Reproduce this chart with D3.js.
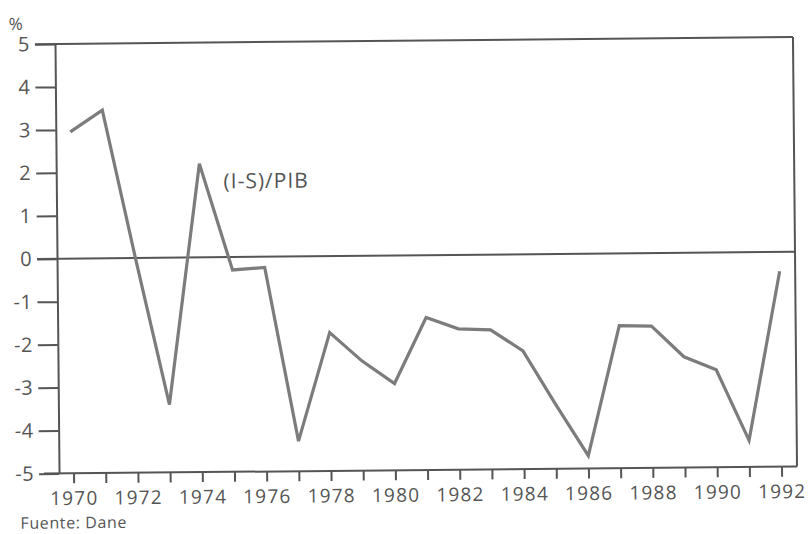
<!DOCTYPE html>
<html>
<head>
<meta charset="utf-8">
<script src="https://cdn.jsdelivr.net/npm/d3@7"></script>
<style>
  html, body { margin: 0; padding: 0; background: #fff; }
  svg { display: block; }
  text { font-family: "Open Sans", "DejaVu Sans", sans-serif; fill: #555; }
</style>
</head>
<body>
<svg id="chart" width="808" height="534"></svg>
<script>
// ---- data ----
const years = [1970,1971,1972,1973,1974,1975,1976,1977,1978,1979,1980,1981,
               1982,1983,1984,1985,1986,1987,1988,1989,1990,1991,1992];
const ratio = [2.95,3.45,-0.05,-3.42,2.18,-0.3,-0.25,-4.3,-1.78,-2.45,-2.98,-1.45,
               -1.72,-1.75,-2.25,-3.5,-4.7,-1.68,-1.7,-2.42,-2.73,-4.38,-0.45];
const yTicks = [5,4,3,2,1,0,-1,-2,-3,-4,-5];
const xLabelYears = [1970,1972,1974,1976,1978,1980,1982,1984,1986,1988,1990,1992];
const seriesLabel = "(I-S)/PIB";
const unitLabel = "%";
const sourceLabel = "Fuente: Dane";

// ---- layout ----
const svg = d3.select("#chart");
const plotLeft = 57, plotRight = 795, plotTop = 40.5, plotBottom = 470;
const axisColor = "#555", lineColor = "#7c7c7c";

// slight scan rotation
const g = svg.append("g").attr("transform", "rotate(-0.54, 426, 255)");

const x = d3.scaleLinear().domain([1970, 1992]).range([71.5, 779.5]);
const y = d3.scaleLinear().domain([-5, 5]).range([plotBottom, plotTop]);

// y axis
const yAxis = g.append("g")
  .attr("transform", `translate(${plotLeft},0)`)
  .call(d3.axisLeft(y).tickValues(yTicks).tickSize(20).tickSizeOuter(0).tickPadding(5)
        .tickFormat(d3.format("d")));
yAxis.select(".domain").attr("stroke", axisColor).attr("stroke-width", 2);
yAxis.selectAll(".tick line").attr("stroke", axisColor).attr("stroke-width", 2);
yAxis.selectAll(".tick text").attr("font-size", 20).style("font-family", "Open Sans").attr("fill", "#555")
  .attr("letter-spacing", 0.5)
  .text(d => d < 0 ? "-" + Math.abs(d) : d);

// x axis
const xAxis = g.append("g")
  .attr("transform", `translate(0,${plotBottom})`)
  .call(d3.axisBottom(x).tickValues(years).tickSize(10).tickSizeOuter(0).tickPadding(8)
        .tickFormat(d => xLabelYears.includes(d) ? String(d) : ""));
xAxis.select(".domain").remove();
xAxis.selectAll(".tick line").attr("stroke", axisColor).attr("stroke-width", 2);
xAxis.selectAll(".tick text").attr("font-size", 19).style("font-family", "Open Sans").attr("fill", "#555")
  .attr("letter-spacing", 1.2);

// bottom axis line, top line, right border, zero line
g.append("line").attr("x1", 42).attr("x2", plotRight).attr("y1", y(-5)).attr("y2", y(-5))
  .attr("stroke", axisColor).attr("stroke-width", 2);
g.append("line").attr("x1", plotLeft - 20).attr("x2", plotRight).attr("y1", y(5)).attr("y2", y(5))
  .attr("stroke", axisColor).attr("stroke-width", 2);
g.append("line").attr("x1", plotRight).attr("x2", plotRight).attr("y1", y(5)).attr("y2", y(-5))
  .attr("stroke", axisColor).attr("stroke-width", 2);
g.append("line").attr("x1", plotLeft - 20).attr("x2", plotRight).attr("y1", y(0)).attr("y2", y(0))
  .attr("stroke", axisColor).attr("stroke-width", 2);

// series line
const line = d3.line().x((d, i) => x(years[i])).y(d => y(d));
g.append("path").datum(ratio)
  .attr("d", line)
  .attr("fill", "none")
  .attr("stroke", lineColor)
  .attr("stroke-width", 3.2)
  .attr("stroke-linejoin", "miter");

// labels
g.append("text").attr("x", x(1974) + 24).attr("y", y(1.6))
  .attr("font-size", 21).attr("letter-spacing", 1).text(seriesLabel);
g.append("text").attr("x", 11).attr("y", 26).attr("font-size", 17).text(unitLabel);
g.append("text").attr("x", 18).attr("y", 525).attr("font-size", 16).attr("letter-spacing", 0.6).text(sourceLabel);
</script>
</body>
</html>
